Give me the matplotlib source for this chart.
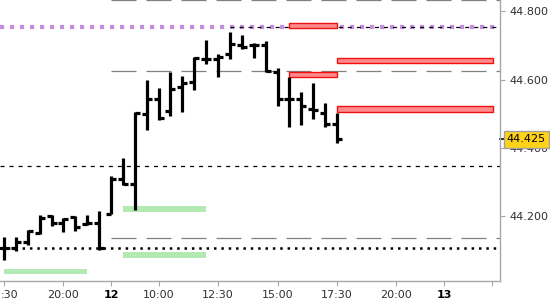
import matplotlib
matplotlib.use('Agg')
import matplotlib.pyplot as plt
import matplotlib.transforms as mtransforms
from matplotlib.patches import Rectangle

plt.rcParams['lines.scale_dashes'] = False
plt.rcParams['font.family'] = 'DejaVu Sans'

# 30 min bars, index 0 = 08:00 on day 12 (session 08:00-22:00)
bar_idx = list(range(-9, 20))
opens = [44.105, 44.107, 44.125, 44.151, 44.200, 44.179, 44.198, 44.176, 44.179,
         44.205, 44.307, 44.294, 44.500, 44.542, 44.508, 44.577, 44.593, 44.659,
         44.659, 44.674, 44.702, 44.700, 44.700, 44.622, 44.542, 44.542, 44.515,
         44.502, 44.471]
highs = [44.139, 44.138, 44.159, 44.203, 44.203, 44.193, 44.200, 44.203, 44.216,
         44.318, 44.371, 44.505, 44.598, 44.574, 44.622, 44.610, 44.666, 44.715,
         44.676, 44.739, 44.730, 44.708, 44.714, 44.635, 44.606, 44.564, 44.590,
         44.530, 44.501]
lows = [44.071, 44.096, 44.115, 44.147, 44.171, 44.154, 44.157, 44.174, 44.100,
        44.205, 44.291, 44.218, 44.452, 44.481, 44.493, 44.505, 44.569, 44.645,
        44.608, 44.659, 44.689, 44.664, 44.622, 44.523, 44.460, 44.468, 44.483,
        44.460, 44.414]
closes = [44.107, 44.125, 44.157, 44.193, 44.179, 44.190, 44.167, 44.179, 44.105,
          44.307, 44.294, 44.502, 44.542, 44.486, 44.571, 44.590, 44.662, 44.661,
          44.666, 44.703, 44.695, 44.702, 44.624, 44.542, 44.542, 44.522, 44.510,
          44.471, 44.425]

# first label is cut at the left edge in the original, only ":30" shows
tick_pos = [-9, -4, 0, 4, 9, 14, 19, 24, 28, 32]
tick_labels = [':30', '20:00', '12', '10:00', '12:30', '15:00', '17:30', '20:00', '13', '']
bold_labels = ['12', '13']
y_ticks = [44.2, 44.4, 44.6, 44.8]

# horizontal levels
gray_levels = [44.832, 44.624, 44.135]
gray_start = 0
purple_level = 44.754
top_dash_level = 44.754
top_dash_start = 10
mid_dash_level = 44.348
dot_level = 44.107

# zones: (x0, x1, y0, y1)
red_zones = [(15, 19, 44.750, 44.767), (19, 32.1, 44.647, 44.662),
             (15, 19, 44.606, 44.621), (19, 32.1, 44.505, 44.521)]
green_zones = [(-9, -2, 44.031, 44.045), (1, 8, 44.212, 44.229), (1, 8, 44.077, 44.094)]

last_price = closes[-1]

fig = plt.figure(figsize=(5.5, 3), dpi=100)
ax = fig.add_axes([0, 0.0633, 0.909, 0.9367])
xmin, xmax = -9.33, 32.7
ax.set_xlim(xmin, xmax)
ax.set_ylim(44.0095, 44.833)

# zones
for x0, x1, y0, y1 in green_zones:
    ax.add_patch(Rectangle((x0, y0), x1 - x0, y1 - y0, facecolor='#b3e9b3', edgecolor='none', zorder=1))
for x0, x1, y0, y1 in red_zones:
    ax.add_patch(Rectangle((x0, y0), x1 - x0, y1 - y0, facecolor='#ff8c8c', edgecolor='#ee1111',
                           linewidth=1.0, zorder=4))

# levels
for lv in gray_levels:
    ax.hlines(lv, gray_start, xmax, colors='#808080', linewidth=0.9, linestyles=[(0, (18, 7.2))], zorder=2)
ax.hlines(purple_level, xmin, xmax, colors='#c48de2', linewidth=3.0, linestyles=[(0, (3.0, 4.2))], zorder=2)
ax.hlines(top_dash_level, top_dash_start, xmax, colors='black', linewidth=0.9, linestyles=[(0, (2.9, 3.6))], zorder=3)
ax.hlines(mid_dash_level, xmin, xmax, colors='black', linewidth=0.9, linestyles=[(0, (2.9, 3.6))], zorder=2)
ax.hlines(dot_level, xmin, xmax, colors='black', linewidth=1.8, linestyles=[(0, (1.8, 3.5))], zorder=2)

# OHLC bars
tl = 0.42
for x, o, h, l, c in zip(bar_idx, opens, highs, lows, closes):
    ax.vlines(x, l, h, colors='black', linewidth=2.3, zorder=5)
    ax.hlines(o, x - tl, x, colors='black', linewidth=2.3, zorder=5)
    ax.hlines(c, x, x + tl, colors='black', linewidth=2.3, zorder=5)

# axes styling
for s in ['top', 'left']:
    ax.spines[s].set_visible(False)
for s in ['right', 'bottom']:
    ax.spines[s].set_color('#a8a8a8')
    ax.spines[s].set_linewidth(1.0)
ax.yaxis.tick_right()
ax.set_yticks(y_ticks)
ax.set_yticklabels(['%.3f' % v for v in y_ticks])
ax.tick_params(axis='y', length=3.6, pad=3, color='#a8a8a8', labelcolor='#303030', labelsize=8)
ax.set_xticks(tick_pos)
ax.set_xticklabels(tick_labels)
ax.tick_params(axis='x', length=3.6, pad=3, color='#a8a8a8', labelcolor='#303030', labelsize=8)
xlabs = ax.get_xticklabels()
for lab in xlabs:
    if lab.get_text() in bold_labels:
        lab.set_fontweight('bold')
        lab.set_color('black')
xlabs[0].set_horizontalalignment('left')
xlabs[0].set_transform(xlabs[0].get_transform() +
                       mtransforms.ScaledTranslation(-3 / 100, 0, fig.dpi_scale_trans))

# current price tag
trans = mtransforms.blended_transform_factory(ax.transAxes, ax.transData)
ax.plot([1.0, 1.012], [last_price, last_price], color='black', linewidth=1.2, transform=trans, clip_on=False)
ax.text(1.053, last_price, '%.3f' % last_price, transform=trans, ha='center', va='center', fontsize=8,
        color='black', zorder=10, clip_on=False,
        bbox=dict(boxstyle='square,pad=0.3', facecolor='#ffd21a', edgecolor='#a0a0a0', linewidth=1.0))

fig.savefig('out.png', dpi=100)
